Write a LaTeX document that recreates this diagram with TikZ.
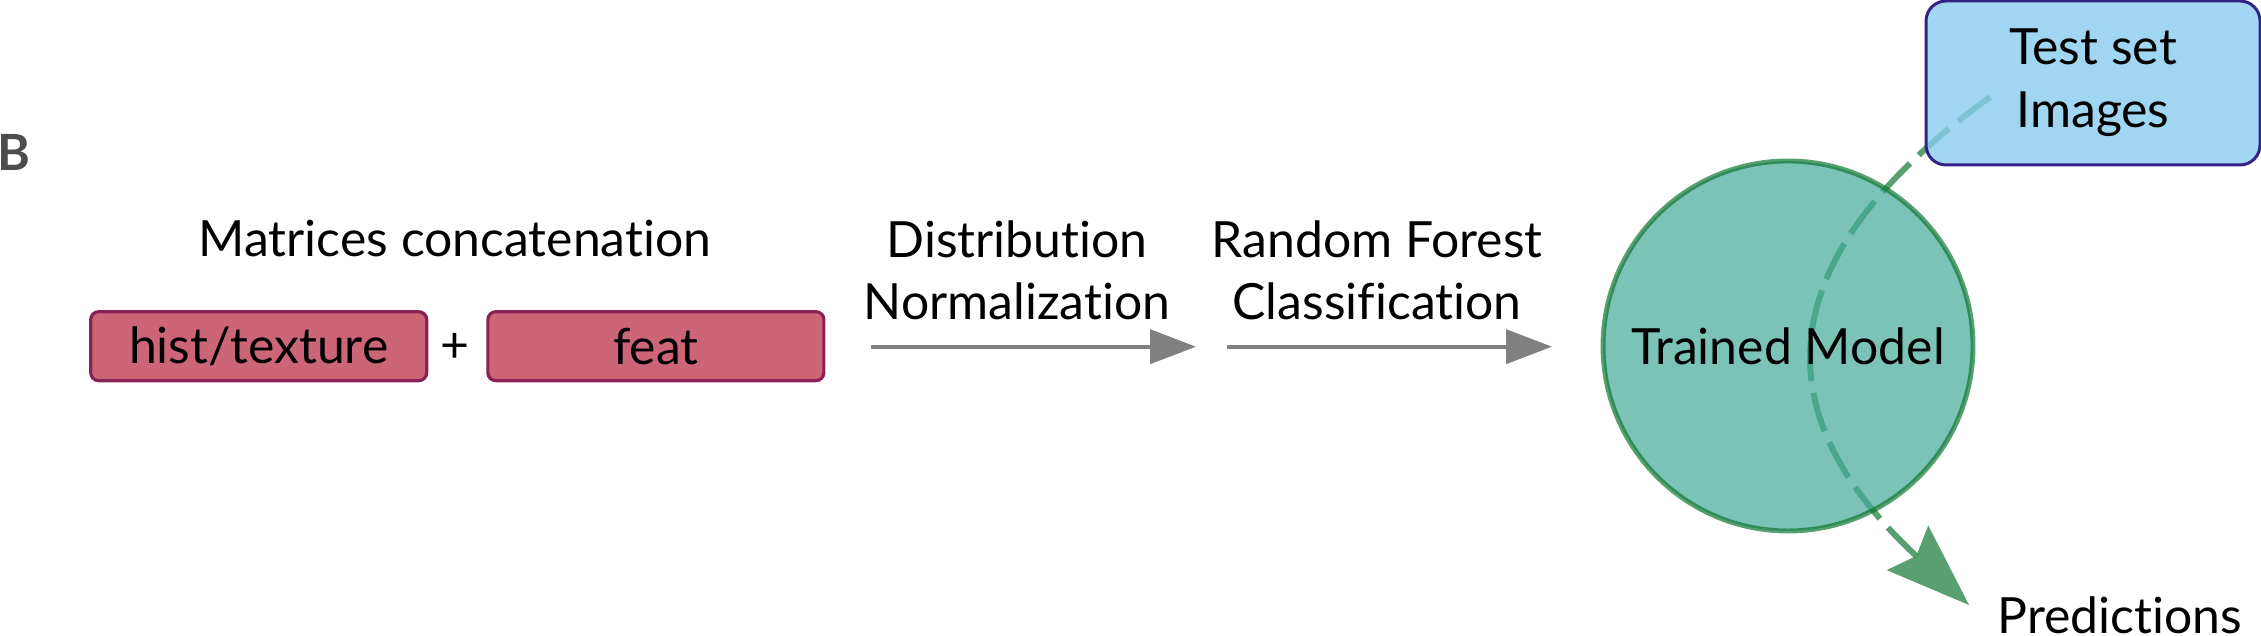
\documentclass[tikz,border=0pt]{standalone}
\usepackage{fontspec}
\setmainfont{Lato}[Ligatures=NoCommon]
\usetikzlibrary{arrows.meta,positioning,backgrounds}
\definecolor{rose}{HTML}{CC6677}
\definecolor{wine}{HTML}{882255}
\definecolor{modelteal}{HTML}{44AA99}
\definecolor{forest}{HTML}{117733}
\definecolor{sky}{HTML}{88CCEE}
\definecolor{indigo}{HTML}{332288}
\definecolor{midgray}{HTML}{808080}
\definecolor{panelgray}{HTML}{4D4D4D}
\newcommand{\labelsize}{\fontsize{14.2}{17.9}\selectfont}
\tikzset{
  feature/.style={draw=wine, fill=rose, line width=0.9pt, rounded corners=0.08cm, minimum width=3.36cm, minimum height=0.69cm, inner sep=0pt},
  model/.style={circle, draw=forest, fill=modelteal, line width=1.4pt, draw opacity=0.7, fill opacity=0.7, text opacity=1, minimum size=3.7cm, inner sep=0pt},
  testset/.style={draw=indigo, fill=sky, line width=0.85pt, fill opacity=0.8, text opacity=1, rounded corners=0.2cm, minimum width=3.34cm, minimum height=1.64cm, align=center, inner sep=0pt},
  caption/.style={align=center, inner sep=0pt},
  flow/.style={-{Triangle[length=4.6mm, width=3.4mm]}, line width=1.1pt, draw=midgray},
  predict/.style={-{Stealth[length=8.4mm, width=6.1mm, inset=1.2mm, line width=0pt]}, line width=1.7pt, draw=forest, opacity=0.7, dash pattern=on 4mm off 1.2mm}
}
\begin{document}
\begin{tikzpicture}[font=\labelsize]
\useasboundingbox (0,0) rectangle (22.61,6.36);
\node[anchor=base west, inner sep=0pt, font=\labelsize\bfseries, text=panelgray] (panel) at (-0.035,4.65) {B};
\node[caption, anchor=base] (concat) at (4.55,3.79) {Matrices concatenation};
\node[feature] (hist) at (2.587,2.898) {hist/texture};
\node[feature, right=0.58cm of hist] (feat) {feat};
\node[inner sep=0pt] (plus) at (4.55,2.88) {+};
\coordinate (n1) at (8.71,2.893);
\coordinate (n2) at (11.96,2.893);
\coordinate (c1) at (12.27,2.893);
\coordinate (c2) at (15.52,2.893);
\draw[flow] (n1) -- (n2);
\draw[flow] (c1) -- (c2);
\node[caption, anchor=base] (norm) at (10.17,3.16) {Distribution\\Normalization};
\node[caption, anchor=base] (rf) at (13.77,3.16) {Random Forest\\Classification};
\node[model] (model) at (17.88,2.90) {Trained Model};
\node[testset] (test) at (20.93,5.53) {Test set\\Images};
\node[anchor=base west, inner sep=0pt] (pred) at (19.97,0.02) {Predictions};
\coordinate (src) at (19.90,5.39);
\coordinate (tip) at (19.69,0.31);
\begin{scope}[on background layer]
\draw[predict] (src) .. controls (17.73,3.82) and (17.57,2.28) .. (tip);
\end{scope}
\end{tikzpicture}
\end{document}
